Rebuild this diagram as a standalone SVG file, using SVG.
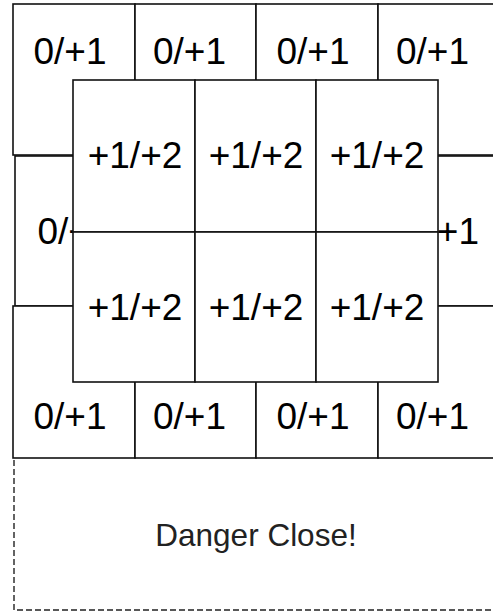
<svg xmlns="http://www.w3.org/2000/svg" width="493" height="612" viewBox="0 0 493 612">
<style>
.cell{fill:#fff;stroke:#111;stroke-width:1.6}
.num{font-family:"Liberation Sans",Arial,sans-serif;font-size:37px;fill:#000;text-anchor:middle}
.dz{font-family:"Liberation Sans",Arial,sans-serif;font-size:31.5px;fill:#222;text-anchor:middle}
.dash{fill:none;stroke:#222;stroke-width:1.4;stroke-dasharray:6 3}
</style>
<rect width="493" height="612" fill="#fff"/>
<g id="outer-top">
<rect class="cell" x="13" y="4" width="122" height="151"/>
<rect class="cell" x="135" y="4" width="121" height="151"/>
<rect class="cell" x="256" y="4" width="122" height="151"/>
<rect class="cell" x="378" y="4" width="122" height="151"/>
<text class="num" x="70" y="64">0/+1</text>
<text class="num" x="189.5" y="64">0/+1</text>
<text class="num" x="313" y="64">0/+1</text>
<text class="num" x="432.5" y="64">0/+1</text>
</g>
<g id="outer-middle">
<rect class="cell" x="15" y="156" width="122" height="150"/>
<rect class="cell" x="381" y="156" width="122" height="150"/>
<text class="num" x="74" y="244">0/+1</text>
<text class="num" x="442.5" y="244">0/+1</text>
</g>
<g id="outer-bottom">
<rect class="cell" x="13" y="306" width="122" height="152"/>
<rect class="cell" x="135" y="306" width="121" height="152"/>
<rect class="cell" x="256" y="306" width="122" height="152"/>
<rect class="cell" x="378" y="306" width="122" height="152"/>
<text class="num" x="70" y="429">0/+1</text>
<text class="num" x="189.5" y="429">0/+1</text>
<text class="num" x="313" y="429">0/+1</text>
<text class="num" x="432.5" y="429">0/+1</text>
</g>
<g id="inner-grid">
<rect class="cell" x="73" y="80" width="122" height="152"/>
<rect class="cell" x="195" y="80" width="121" height="152"/>
<rect class="cell" x="316" y="80" width="122" height="152"/>
<rect class="cell" x="73" y="232" width="122" height="150"/>
<rect class="cell" x="195" y="232" width="121" height="150"/>
<rect class="cell" x="316" y="232" width="122" height="150"/>
<text class="num" x="135" y="168">+1/+2</text>
<text class="num" x="256" y="168">+1/+2</text>
<text class="num" x="377" y="168">+1/+2</text>
<text class="num" x="135" y="320">+1/+2</text>
<text class="num" x="256" y="320">+1/+2</text>
<text class="num" x="377" y="320">+1/+2</text>
</g>
<g id="danger-close">
<path class="dash" d="M14,460 V610 H493"/>
<text class="dz" x="256" y="546">Danger Close!</text>
</g>
</svg>
